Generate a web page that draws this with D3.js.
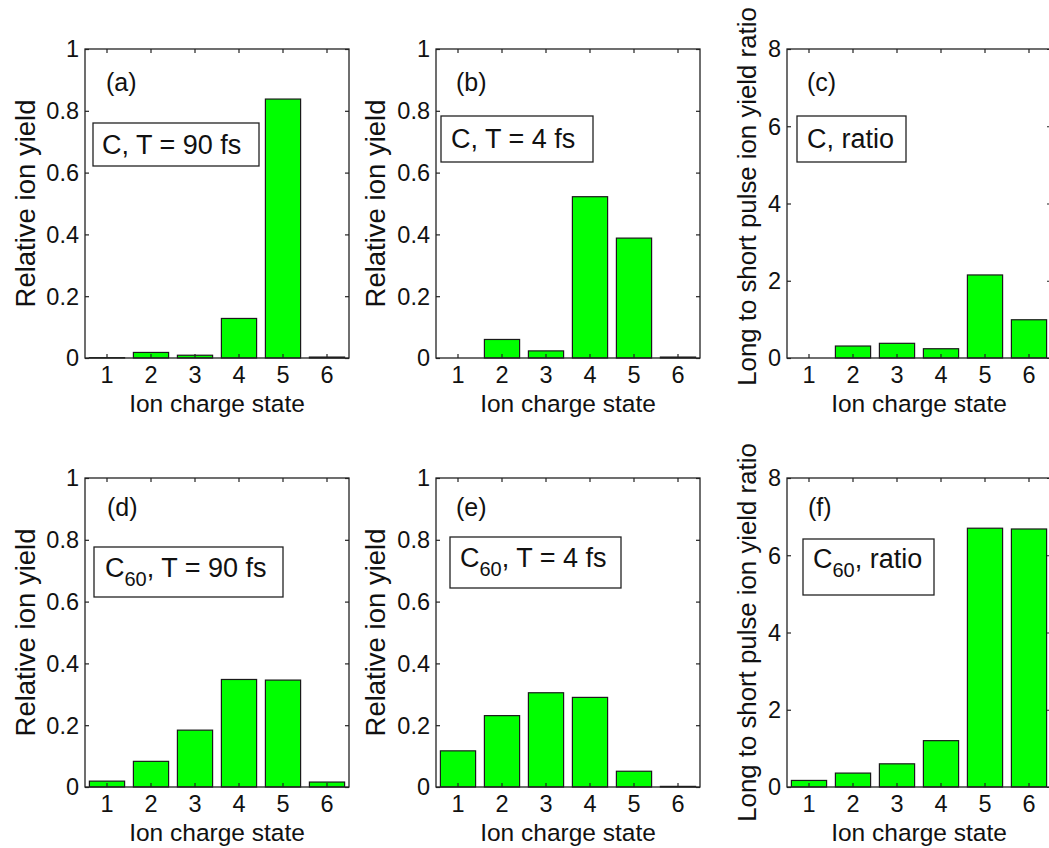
<!DOCTYPE html>
<html><head><meta charset="utf-8">
<script src="https://cdn.jsdelivr.net/npm/d3@7"></script>
<style>body{margin:0;background:#fff}svg{display:block}</style>
</head><body>
<svg id="chart" width="1049" height="848"></svg>
<script>
const categories = [1, 2, 3, 4, 5, 6];
const yieldC90 = [0.001, 0.018, 0.009, 0.128, 0.838, 0.003];
const yieldC4 = [0.0, 0.060, 0.023, 0.522, 0.388, 0.003];
const ratioC = [0.0, 0.31, 0.38, 0.24, 2.15, 0.99];
const yieldC60_90 = [0.019, 0.083, 0.184, 0.348, 0.346, 0.016];
const yieldC60_4 = [0.117, 0.231, 0.305, 0.290, 0.051, 0.002];
const ratioC60 = [0.17, 0.36, 0.60, 1.20, 6.70, 6.68];
const yieldTicks = [0, 0.2, 0.4, 0.6, 0.8, 1];
const yieldTickLabels = ["0", "0.2", "0.4", "0.6", "0.8", "1"];
const ratioTicks = [0, 2, 4, 6, 8];
const ratioTickLabels = ["0", "2", "4", "6", "8"];
const panelLetters = ["(a)", "(b)", "(c)", "(d)", "(e)", "(f)"];
const boxLabels = [
  [["C, T = 90 fs", null]],
  [["C, T = 4 fs", null]],
  [["C, ratio", null]],
  [["C", null], ["60", "sub"], [", T = 90 fs", null]],
  [["C", null], ["60", "sub"], [", T = 4 fs", null]],
  [["C", null], ["60", "sub"], [", ratio", null]]
];
const xLabel = "Ion charge state";
const yLabelYield = "Relative ion yield";
const yLabelRatio = "Long to short pulse ion yield ratio";

const FONT = "'Liberation Sans', Arial, Helvetica, sans-serif";
const W = 264, H = 309;
const panels = [
  {x: 85, y: 49, data: yieldC90, max: 1, ticks: yieldTicks, tl: yieldTickLabels, yl: yLabelYield, ylx: -60, yly: 0, ylf: 27.5, box: [8,74,166,43], tx: 17, ty: 105, lx: 21, ly: 42},
  {x: 436, y: 49, data: yieldC4, max: 1, ticks: yieldTicks, tl: yieldTickLabels, yl: yLabelYield, ylx: -61, yly: 0, ylf: 27.5, box: [5,67,152,46], tx: 15, ty: 99, lx: 20, ly: 42},
  {x: 787, y: 49, data: ratioC, max: 8, ticks: ratioTicks, tl: ratioTickLabels, yl: yLabelRatio, ylx: -40, yly: -7, ylf: 25.8, box: [10,67,109,46], tx: 20, ty: 99, lx: 20, ly: 42},
  {x: 85, y: 478, data: yieldC60_90, max: 1, ticks: yieldTicks, tl: yieldTickLabels, yl: yLabelYield, ylx: -60, yly: 0, ylf: 27.5, box: [9,69,189,50], tx: 20, ty: 99, lx: 22, ly: 38},
  {x: 436, y: 478, data: yieldC60_4, max: 1, ticks: yieldTicks, tl: yieldTickLabels, yl: yLabelYield, ylx: -61, yly: 0, ylf: 27.5, box: [14,59,171,51], tx: 24, ty: 89, lx: 20, ly: 38},
  {x: 787, y: 478, data: ratioC60, max: 8, ticks: ratioTicks, tl: ratioTickLabels, yl: yLabelRatio, ylx: -40, yly: 0, ylf: 25.8, box: [16,61,131,56], tx: 26, ty: 90, lx: 21, ly: 38}
];

const svg = d3.select("#chart");
const frameColor = "#222";
const TICKFONT = 23.5;

panels.forEach((p, i) => {
  const g = svg.append("g").attr("transform", `translate(${p.x},${p.y})`);
  const x = d3.scaleBand().domain(categories).range([0, W]).paddingInner(0.2).paddingOuter(0.1);
  const y = d3.scaleLinear().domain([0, p.max]).range([H, 0]);

  // bars
  g.selectAll("rect.bar").data(p.data).enter().append("rect")
    .attr("class", "bar")
    .attr("x", (d, k) => x(categories[k]))
    .attr("width", x.bandwidth())
    .attr("y", d => y(d))
    .attr("height", d => Math.max(0, H - y(d)))
    .attr("fill", "#00ff00")
    .attr("stroke", "#1a1a1a")
    .attr("stroke-width", 1.2);

  // frame
  g.append("rect").attr("x", 0).attr("y", 0).attr("width", W).attr("height", H)
    .attr("fill", "none").attr("stroke", frameColor).attr("stroke-width", 1.3);

  // tick marks via axes (inward)
  const xb = d3.axisBottom(x).tickSize(-4).tickFormat("");
  const xt = d3.axisTop(x).tickSize(-4).tickFormat("");
  const yl = d3.axisLeft(y).tickValues(p.ticks).tickSize(-4).tickFormat("");
  const yr = d3.axisRight(y).tickValues(p.ticks).tickSize(-4).tickFormat("");
  g.append("g").attr("transform", `translate(0,${H})`).call(xb);
  g.append("g").call(xt);
  g.append("g").call(yl);
  g.append("g").attr("transform", `translate(${W},0)`).call(yr);
  g.selectAll(".domain").remove();
  g.selectAll(".tick line").attr("stroke", frameColor).attr("stroke-width", 1.2);
  g.selectAll(".tick text").remove();

  // tick labels
  g.selectAll("text.xtl").data(categories).enter().append("text").attr("class", "xtl")
    .attr("x", d => x(d) + x.bandwidth() / 2).attr("y", H + 25)
    .attr("text-anchor", "middle")
    .attr("font-family", FONT).attr("font-size", TICKFONT).attr("fill", "#111")
    .text(d => d);
  g.selectAll("text.ytl").data(p.ticks).enter().append("text").attr("class", "ytl")
    .attr("x", -6).attr("y", d => y(d)).attr("dy", "0.36em")
    .attr("text-anchor", "end")
    .attr("font-family", FONT).attr("font-size", TICKFONT).attr("fill", "#111")
    .text((d, k) => p.tl[k]);

  // axis labels
  g.append("text").attr("x", W / 2).attr("y", H + 54).attr("text-anchor", "middle")
    .attr("font-family", FONT).attr("font-size", 24.5).attr("fill", "#111").text(xLabel);
  g.append("text").attr("transform", `translate(${p.ylx},${H / 2 + p.yly}) rotate(-90)`)
    .attr("text-anchor", "middle").attr("dy", "0.35em")
    .attr("font-family", FONT).attr("font-size", p.ylf).attr("fill", "#111").text(p.yl);

  // panel letter
  g.append("text").attr("x", p.lx).attr("y", p.ly)
    .attr("font-family", FONT).attr("font-size", 25).attr("fill", "#111").text(panelLetters[i]);

  // annotation box
  g.append("rect").attr("x", p.box[0]).attr("y", p.box[1]).attr("width", p.box[2]).attr("height", p.box[3])
    .attr("fill", "#fff").attr("stroke", frameColor).attr("stroke-width", 1.3);
  const t = g.append("text").attr("x", p.tx).attr("y", p.ty)
    .attr("font-family", FONT).attr("font-size", 27).attr("fill", "#111");
  boxLabels[i].forEach(([s, kind]) => {
    const ts = t.append("tspan").text(s);
    if (kind === "sub") ts.attr("dy", 9).attr("font-size", 20);
    else if (s.startsWith(",") && boxLabels[i].length > 1) ts.attr("dy", -9);
  });
});
</script>
</body></html>
